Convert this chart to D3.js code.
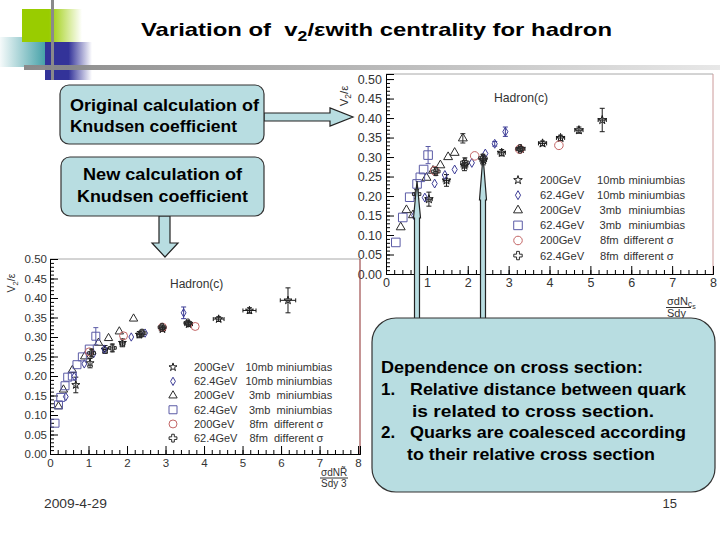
<!DOCTYPE html>
<html>
<head>
<meta charset="utf-8">
<script src="https://cdn.jsdelivr.net/npm/d3@7"></script>
<style>
  body { margin: 0; background: #fff; }
  svg { display: block; }
  text { font-family: "Liberation Sans", Arial, sans-serif; white-space: pre; }
</style>
</head>
<body>
<svg id="slide" width="720" height="540"></svg>
<script>
// ---- chart data ----
// every point: [x, y, xerr, yerr]
const legendLabels = [
  ["200GeV", "10mb", "miniumbias"],
  ["62.4GeV", "10mb", "miniumbias"],
  ["200GeV", "3mb", "miniumbias"],
  ["62.4GeV", "3mb", "miniumbias"],
  ["200GeV", "8fm", "different σ"],
  ["62.4GeV", "8fm", "different σ"]
];
const yMajor = [0, 0.05, 0.1, 0.15, 0.2, 0.25, 0.3, 0.35, 0.4, 0.45, 0.5];
const xMajor = [0, 1, 2, 3, 4, 5, 6, 7, 8];

// upper plot: original Knudsen coefficient
const up200_10mb = [[1.05,0.192,0.08,0.018],[1.48,0.240,0.08,0.015],[1.92,0.278,0.08,0.013],[2.38,0.292,0.08,0.012],
  [2.83,0.311,0.09,0.008],[3.30,0.321,0.1,0.006],[3.83,0.335,0.1,0.006],[4.27,0.349,0.1,0.007],[4.72,0.369,0.1,0.008],[5.29,0.395,0.1,0.03]];
const up62_10mb = [[0.69,0.150,0,0],[0.95,0.196,0,0],[1.19,0.232,0,0],[1.44,0.254,0,0],[1.68,0.268,0,0],
  [2.10,0.285,0,0],[2.43,0.309,0,0],[2.66,0.334,0,0.006],[2.92,0.365,0,0.012]];
const up200_3mb = [[0.36,0.120,0,0],[0.50,0.164,0,0],[0.66,0.151,0,0],[0.99,0.247,0,0],[1.15,0.265,0,0],
  [1.33,0.279,0,0],[1.52,0.300,0,0],[1.68,0.311,0,0],[1.88,0.348,0,0.012]];
const up62_3mb = [[0.24,0.081,0,0],[0.41,0.145,0,0],[0.58,0.197,0,0],[0.76,0.231,0,0],[0.84,0.248,0,0],
  [0.92,0.268,0,0],[1.03,0.305,0,0.022]];
const up200_8fm = [[1.19,0.265,0,0],[2.17,0.303,0,0],[3.27,0.320,0,0],[4.23,0.330,0,0]];
const up62_8fm = [[0.75,0.205,0.05,0.012],[1.22,0.263,0.05,0.01],[1.93,0.286,0.06,0.012],[2.37,0.297,0.06,0.01],[3.28,0.321,0.07,0.006]];

// lower plot: new Knudsen coefficient
const lo200_10mb = [[0.67,0.177,0,0.02],[1.04,0.233,0,0.012],[1.43,0.268,0.06,0.01],[1.88,0.285,0.07,0.01],[2.32,0.306,0.07,0.008],
  [2.92,0.320,0.08,0.006],[3.60,0.333,0.1,0.006],[4.38,0.346,0.14,0.006],[5.18,0.368,0.17,0.007],[6.18,0.394,0.2,0.032]];
const lo62_10mb = [[0.41,0.147,0,0],[0.63,0.199,0,0],[0.89,0.231,0,0],[1.13,0.257,0,0],[1.41,0.269,0,0],
  [2.11,0.300,0,0],[2.47,0.310,0,0],[3.47,0.362,0,0.015]];
const lo200_3mb = [[0.22,0.122,0,0],[0.35,0.165,0,0],[0.58,0.215,0,0],[0.90,0.250,0,0],[1.26,0.285,0,0],
  [1.52,0.297,0,0],[1.80,0.314,0,0],[2.17,0.347,0,0]];
const lo62_3mb = [[0.13,0.079,0,0],[0.22,0.126,0,0],[0.28,0.145,0,0],[0.39,0.175,0,0],[0.46,0.197,0,0],[0.58,0.200,0,0],
  [0.70,0.229,0,0],[0.84,0.249,0,0],[1.02,0.269,0,0],[1.19,0.302,0,0.022]];
const lo200_8fm = [[1.02,0.262,0,0],[1.91,0.303,0,0],[2.92,0.325,0,0],[3.77,0.327,0,0]];
const lo62_8fm = [[1.08,0.259,0.05,0.01],[1.62,0.272,0.06,0.01],[2.39,0.310,0.06,0.008],[2.91,0.325,0.07,0.006],[3.58,0.336,0.08,0.006]];

// ---- styles ----
const seriesStyle = [
  { type: d3.symbolStar, color: "#1a1a1a", size: 20 },
  { type: d3.symbolDiamond, color: "#3c3c96", size: 20 },
  { type: d3.symbolTriangle, color: "#2a2a2a", size: 30 },
  { type: d3.symbolSquare, color: "#5b5ba6", size: 64 },
  { type: d3.symbolCircle, color: "#c46666", size: 50 },
  { type: d3.symbolCross, color: "#2a2a2a", size: 34 }
];
const boxFill = "#b8dde1";
const font = "'Liberation Sans', Arial, sans-serif";

const svg = d3.select("#slide");
const defs = svg.append("defs");

function hGrad(id, stops) {
  const lg = defs.append("linearGradient").attr("id", id);
  stops.forEach(s => lg.append("stop").attr("offset", s[0]).attr("stop-color", s[1]).attr("stop-opacity", s[2]));
}
hGrad("gTeal", [[0, "#3f9ea5", 0.05], [1, "#3f9ea5", 1]]);
hGrad("gGreen", [[0, "#99cc00", 1], [0.45, "#99cc00", 1], [1, "#99cc00", 0]]);
hGrad("gBlue", [[0, "#333399", 1], [0.5, "#333399", 1], [1, "#333399", 0]]);
hGrad("gBar", [[0, "#8a8a8a", 1], [1, "#8a8a8a", 0.2]]);

// ---- slide decoration ----
svg.append("rect").attr("x", 0).attr("y", 37).attr("width", 47).attr("height", 30).attr("fill", "url(#gTeal)");
svg.append("rect").attr("x", 22).attr("y", 9).attr("width", 60).attr("height", 33).attr("fill", "url(#gGreen)");
svg.append("rect").attr("x", 45).attr("y", 42).attr("width", 47).attr("height", 38).attr("fill", "url(#gBlue)");
svg.append("rect").attr("x", 24).attr("y", 65).attr("width", 696).attr("height", 5).attr("fill", "url(#gBar)");
svg.append("rect").attr("x", 51).attr("y", 0).attr("width", 3).attr("height", 80).attr("fill", "#8a8a8a");

// title
const title = svg.append("text").attr("x", 141).attr("y", 36)
  .attr("font-size", 19).attr("font-weight", "bold").attr("fill", "#000")
  .attr("textLength", 471).attr("lengthAdjust", "spacingAndGlyphs");
title.append("tspan").text("Variation of  v");
title.append("tspan").attr("dy", 5).attr("font-size", 14).text("2");
title.append("tspan").attr("dy", -5).text("/εwith centrality for hadron");

// ---- plot drawing ----
function drawChart(cfg) {
  const g = svg.append("g");
  const x = d3.scaleLinear().domain([0, cfg.xMax]).range([cfg.left, cfg.right]);
  const y = d3.scaleLinear().domain([0, cfg.yMax]).range([cfg.bottom, cfg.top]);

  // frame
  g.append("line").attr("x1", cfg.left).attr("x2", cfg.right).attr("y1", cfg.top).attr("y2", cfg.top)
    .attr("stroke", "#a8a8a8");
  g.append("line").attr("x1", cfg.right).attr("x2", cfg.right).attr("y1", cfg.top).attr("y2", cfg.bottom)
    .attr("stroke", cfg.rightColor);

  // axes, ticks inside like ROOT
  const yMinor = d3.range(0, 0.5001, 0.01);
  const xMinor = d3.range(0, 8.001, 0.2);
  const styleAxis = sel => {
    sel.attr("font-family", font).attr("font-size", cfg.fs);
    sel.selectAll("path.domain").attr("stroke", "#000");
    sel.selectAll(".tick line").attr("stroke", "#000");
    sel.selectAll(".tick text").attr("fill", "#333");
  };
  g.append("g").attr("transform", `translate(${cfg.left},0)`)
    .call(d3.axisLeft(y).tickValues(yMinor).tickSize(-4).tickFormat("")).call(styleAxis);
  g.append("g").attr("transform", `translate(${cfg.left},0)`)
    .call(d3.axisLeft(y).tickValues(yMajor).tickSize(-8).tickPadding(cfg.yPad).tickFormat(d3.format(".2f")))
    .call(styleAxis);
  g.append("g").attr("transform", `translate(0,${cfg.bottom})`)
    .call(d3.axisBottom(x).tickValues(xMinor).tickSize(-4).tickFormat("")).call(styleAxis);
  g.append("g").attr("transform", `translate(0,${cfg.bottom})`)
    .call(d3.axisBottom(x).tickValues(xMajor).tickSize(-8).tickPadding(cfg.xPad).tickFormat(d3.format("d")))
    .call(styleAxis);

  // y title V2/eps
  const yt = g.append("text").attr("transform", `translate(${cfg.ytX},${cfg.ytY}) rotate(-90)`)
    .attr("text-anchor", "middle").attr("font-size", cfg.fs - 1).attr("fill", "#333");
  yt.append("tspan").text("V");
  yt.append("tspan").attr("dy", 3).attr("font-size", cfg.fs - 4).text("2");
  yt.append("tspan").attr("dy", -3).text("/ε");

  // label in plot
  g.append("text").attr("x", cfg.hadX).attr("y", cfg.hadY).attr("font-size", cfg.legFs + 1)
    .attr("fill", "#333").text("Hadron(c)");

  // points
  cfg.series.forEach((pts, i) => {
    const st = seriesStyle[i];
    const sg = g.append("g").attr("stroke", st.color).attr("fill", "none").attr("stroke-width", 1);
    pts.forEach(p => {
      const px = x(p[0]), py = y(p[1]);
      if (p[2] > 0) {
        const x1 = x(p[0] - p[2]), x2 = x(p[0] + p[2]);
        sg.append("line").attr("x1", x1).attr("x2", x2).attr("y1", py).attr("y2", py);
        sg.append("line").attr("x1", x1).attr("x2", x1).attr("y1", py - 2).attr("y2", py + 2);
        sg.append("line").attr("x1", x2).attr("x2", x2).attr("y1", py - 2).attr("y2", py + 2);
      }
      if (p[3] > 0) {
        const y1 = y(p[1] - p[3]), y2 = y(p[1] + p[3]);
        sg.append("line").attr("x1", px).attr("x2", px).attr("y1", y1).attr("y2", y2);
        sg.append("line").attr("x1", px - 2.5).attr("x2", px + 2.5).attr("y1", y1).attr("y2", y1);
        sg.append("line").attr("x1", px - 2.5).attr("x2", px + 2.5).attr("y1", y2).attr("y2", y2);
      }
    });
    sg.selectAll("path").data(pts).join("path")
      .attr("transform", p => `translate(${x(p[0])},${y(p[1])})`)
      .attr("fill", "#fff").attr("fill-opacity", 0)
      .attr("d", d3.symbol().type(st.type).size(st.size * cfg.mk));
  });

  // legend
  legendLabels.forEach((lab, i) => {
    const st = seriesStyle[i];
    const ry = cfg.legY + i * cfg.legStep;
    g.append("path").attr("transform", `translate(${cfg.legSymX},${ry - cfg.legFs * 0.35})`)
      .attr("d", d3.symbol().type(st.type).size(st.size * cfg.mk))
      .attr("fill", "none").attr("stroke", st.color);
    const off2 = cfg.legOff2[lab[1]];
    const off3 = cfg.legOff3[lab[2]];
    const t = g.append("g").attr("font-size", cfg.legFs).attr("fill", "#333");
    t.append("text").attr("x", cfg.legTextX).attr("y", ry).text(lab[0]);
    t.append("text").attr("x", cfg.legTextX + off2).attr("y", ry).text(lab[1]);
    t.append("text").attr("x", cfg.legTextX + off3).attr("y", ry).text(lab[2]);
  });
  return { x, y };
}

drawChart({
  left: 386, right: 713, top: 74, bottom: 274, xMax: 8, yMax: 0.513,
  rightColor: "#cc9a9a", fs: 12.5, legFs: 11.2, yPad: 4, xPad: 4, mk: 1.15,
  ytX: 348, ytY: 96, hadX: 494, hadY: 102,
  legSymX: 518, legTextX: 540, legY: 184, legStep: 15.1,
  legOff2: { "10mb": 57, "3mb": 59.5, "8fm": 60 },
  legOff3: { "miniumbias": 88.5, "different σ": 83.5 },
  series: [up200_10mb, up62_10mb, up200_3mb, up62_3mb, up200_8fm, up62_8fm]
});
drawChart({
  left: 50, right: 360, top: 259, bottom: 454, xMax: 8.05, yMax: 0.5,
  rightColor: "#8b2a2a", fs: 11.5, legFs: 11, yPad: 3, xPad: 5, mk: 1,
  ytX: 15, ytY: 283, hadX: 170, hadY: 288,
  legSymX: 173, legTextX: 194, legY: 371, legStep: 14.2,
  legOff2: { "10mb": 51.5, "3mb": 55, "8fm": 55.5 },
  legOff3: { "miniumbias": 82.5, "different σ": 80 },
  series: [lo200_10mb, lo62_10mb, lo200_3mb, lo62_3mb, lo200_8fm, lo62_8fm]
});

// x-axis titles (fractions)
const xt1 = svg.append("g").attr("font-size", 11).attr("fill", "#333");
const n1 = xt1.append("text").attr("x", 667).attr("y", 305);
n1.append("tspan").text("σdN");
n1.append("tspan").attr("dy", 2).attr("font-size", 9).text("c");
n1.append("tspan").attr("dy", 2).attr("font-size", 7).text("s");
xt1.append("line").attr("x1", 666).attr("x2", 691).attr("y1", 307.5).attr("y2", 307.5).attr("stroke", "#333");
xt1.append("text").attr("x", 667).attr("y", 317).text("Sdy");

const xt2 = svg.append("g").attr("font-size", 10).attr("fill", "#333");
xt2.append("text").attr("x", 321).attr("y", 476).text("σdNR\u0303");
xt2.append("line").attr("x1", 320).attr("x2", 348).attr("y1", 478).attr("y2", 478).attr("stroke", "#333");
xt2.append("text").attr("x", 321).attr("y", 487).text("Sdy 3");

// ---- call-out boxes and arrows ----
function roundBox(x0, y0, x1, y1, r) {
  svg.append("rect").attr("x", x0).attr("y", y0).attr("width", x1 - x0).attr("height", y1 - y0)
    .attr("rx", r).attr("fill", boxFill).attr("stroke", "#333").attr("stroke-width", 1.2);
}
function shape(points) {
  svg.append("path").attr("d", d3.line()(points) + "Z")
    .attr("fill", boxFill).attr("stroke", "#222").attr("stroke-width", 1.2);
}

// right arrow from first box
shape([[264, 113], [330, 113], [330, 108], [353, 117], [330, 126], [330, 121], [264, 121]]);
// down arrow from second box
shape([[159, 216], [170, 216], [170, 243], [178, 243], [165, 257], [152, 243], [159, 243]]);
// two narrow pointers into the upper plot
shape([[417, 181], [420.5, 218], [419.5, 218], [419.5, 319], [414.5, 319], [414.5, 218], [413.5, 218]]);
shape([[483, 156], [486.5, 200], [485.5, 200], [485.5, 319], [480.5, 319], [480.5, 200], [479.5, 200]]);

roundBox(60, 85, 264, 144, 9);
roundBox(61, 157, 264, 216, 9);
roundBox(372, 318, 715, 492, 24);

const bt = svg.append("g").attr("font-size", 17).attr("font-weight", "bold").attr("fill", "#000");
function line(x, y, s, w, anchor) {
  const t = bt.append("text").attr("x", x).attr("y", y).text(s);
  if (anchor) t.attr("text-anchor", anchor);
  if (w) t.attr("textLength", w).attr("lengthAdjust", "spacingAndGlyphs");
}
line(70, 110.5, "Original calculation of", 189);
line(70, 131.5, "Knudsen coefficient", 167);
line(162.5, 180, "New calculation of", 159, "middle");
line(162.5, 201.5, "Knudsen coefficient", 171, "middle");

line(381, 373, "Dependence on cross section:", 262);
line(381, 395, "1.");
line(410, 395, "Relative distance between quark", 276);
line(412, 416.5, "is related to cross section.", 242);
line(381, 438, "2.");
line(410, 438, "Quarks are coalesced according", 276);
line(407, 459.5, "to their relative cross section", 248);

// footer
svg.append("text").attr("x", 44).attr("y", 508).attr("font-size", 13).attr("fill", "#333")
  .attr("textLength", 63).attr("lengthAdjust", "spacingAndGlyphs").text("2009-4-29");
svg.append("text").attr("x", 677).attr("y", 508).attr("font-size", 13).attr("fill", "#333")
  .attr("text-anchor", "end").text("15");
</script>
</body>
</html>
